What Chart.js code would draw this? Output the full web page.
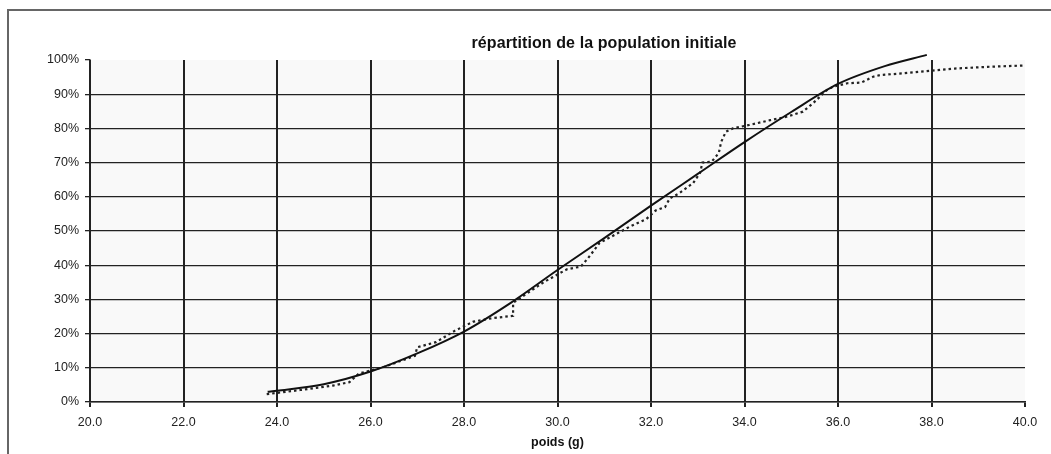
<!DOCTYPE html>
<html lang="fr">
<head>
    <meta charset="UTF-8">
    <title>répartition de la population initiale</title>
    <script src="https://cdn.jsdelivr.net/npm/chart.js"></script>
    <style>
        html, body { margin: 0; padding: 0; background: #fff; }
        .wrap { position: relative; width: 1051px; height: 454px; overflow: hidden; }
        .frame { position: absolute; left: 7px; top: 9px; width: 1100px; height: 500px;
                 border-left: 2px solid #666; border-top: 2px solid #666; }
        .title { position: absolute; left: 404px; top: 34px; width: 400px; text-align: center;
                 font: bold 16px "Liberation Sans", Arial, sans-serif; color: #111; letter-spacing: 0.1px; }
        canvas { position: absolute; left: 0; top: 0; }
    </style>
</head>
<body>
    <div class="wrap">
        <div class="frame"></div>
        <canvas id="chart" width="1051" height="454"></canvas>
        <div class="title">répartition de la population initiale</div>
    </div>

    <script>
        // fitted curve (solid)
        const fitX = [23.8, 24.0, 25.0, 26.0, 27.0, 28.0, 29.0, 30.0, 31.0, 32.0, 33.0, 34.0, 35.0, 36.0, 37.0, 37.9];
        const fitY = [3.0, 3.3, 5.2, 8.9, 14.2, 20.6, 29.0, 38.6, 47.9, 57.4, 66.7, 76.0, 84.8, 93.0, 98.2, 101.5];

        // observed distribution (dotted)
        const obsX = [23.78, 24.5, 25.2, 25.55, 25.75, 26.3, 26.95, 27.0, 27.4, 27.8, 28.2, 28.6, 29.05, 29.05, 29.3, 29.7,
                      30.2, 30.5, 30.65, 30.9, 31.55, 31.9, 32.1, 32.3, 32.4, 32.6, 32.9, 33.05, 33.1, 33.3, 33.45, 33.5,
                      33.6, 33.75, 34.1, 34.55, 34.9, 35.25, 35.47, 35.76, 35.9, 36.2, 36.5, 36.75, 36.9, 37.4, 38.0,
                      38.5, 39.2, 40.0];
        const obsY = [2.3, 3.5, 4.8, 5.8, 8.3, 10.3, 13.5, 16.0, 17.5, 20.8, 23.5, 24.5, 25.2, 29.0, 31.3, 35.0,
                      38.8, 39.6, 42.0, 46.5, 51.3, 53.5, 56.0, 57.0, 59.5, 61.0, 64.0, 67.0, 70.0, 70.3, 72.8, 76.0,
                      79.0, 80.0, 81.0, 82.4, 83.4, 84.9, 87.4, 91.2, 92.2, 93.2, 93.4, 95.1, 95.6, 96.1, 96.9,
                      97.5, 98.0, 98.4];

        // axis ticks
        const xTicks = [20, 22, 24, 26, 28, 30, 32, 34, 36, 38, 40];
        const yTicks = [0, 10, 20, 30, 40, 50, 60, 70, 80, 90, 100];

        const font = { family: '"Liberation Sans", Arial, sans-serif', size: 12.5 };

        const plotBg = {
            id: 'plotBg',
            beforeDraw(chart) {
                const a = chart.chartArea, c = chart.ctx;
                c.save();
                c.fillStyle = 'rgba(0,0,0,0.025)';
                c.fillRect(a.left, a.top, a.right - a.left, a.bottom - a.top);
                c.restore();
            }
        };

        new Chart(document.getElementById('chart'), {
            type: 'line',
            data: {
                datasets: [{
                    label: 'ajustement',
                    data: fitX.map((x, i) => ({ x: x, y: fitY[i] })),
                    borderColor: '#111',
                    borderWidth: 2,
                    pointRadius: 0,
                    tension: 0.4,
                    cubicInterpolationMode: 'monotone',
                    clip: false
                }, {
                    label: 'observé',
                    data: obsX.map((x, i) => ({ x: x, y: obsY[i] })),
                    borderColor: '#222',
                    borderWidth: 2.2,
                    borderDash: [2.5, 3],
                    pointRadius: 0,
                    tension: 0,
                    clip: false
                }]
            },
            options: {
                responsive: false,
                animation: false,
                layout: { padding: { left: 0, right: 26, top: 60, bottom: 0 } },
                plugins: { legend: { display: false }, tooltip: { enabled: false } },
                scales: {
                    x: {
                        type: 'linear',
                        min: 20, max: 40,
                        afterBuildTicks: s => { s.ticks = xTicks.map(v => ({ value: v })); },
                        afterFit: s => { s.height = 52; },
                        ticks: { font: font, color: '#222', padding: 8, maxRotation: 0,
                                 callback: v => v.toFixed(1) },
                        grid: {
                            color: c => c.tick && c.tick.value === 40 ? 'rgba(0,0,0,0)' : '#222',
                            tickColor: '#222',
                            lineWidth: 2,
                            tickLength: 5
                        },
                        border: { color: '#222', width: 1.5 },
                        title: { display: true, text: 'poids (g)', color: '#111',
                                 font: { family: font.family, size: 12.5, weight: 'bold' },
                                 padding: { top: 0, bottom: 4 } }
                    },
                    y: {
                        min: 0, max: 100,
                        afterBuildTicks: s => { s.ticks = yTicks.map(v => ({ value: v })); },
                        afterFit: s => { s.width = 90; },
                        ticks: { font: font, color: '#222', padding: 6,
                                 callback: v => v + '%' },
                        grid: {
                            color: c => c.tick && c.tick.value === 100 ? 'rgba(0,0,0,0)' : '#222',
                            tickColor: '#222',
                            lineWidth: 1.3,
                            tickLength: 5
                        },
                        border: { color: '#222', width: 1.5 }
                    }
                }
            },
            plugins: [plotBg]
        });
    </script>
</body>
</html>
